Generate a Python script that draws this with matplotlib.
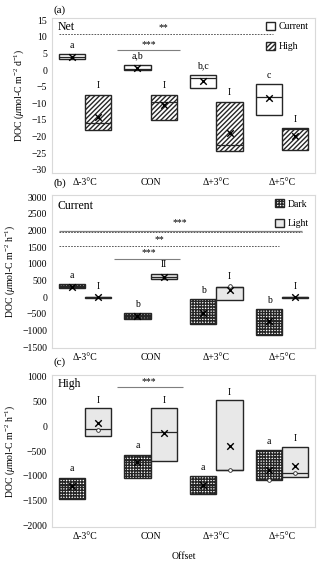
import matplotlib
matplotlib.use('Agg')
import matplotlib.pyplot as plt
from matplotlib.patches import Patch

plt.rcParams['font.family'] = ['Liberation Serif', 'DejaVu Serif']
plt.rcParams['mathtext.fontset'] = 'custom'
plt.rcParams['mathtext.rm'] = 'Liberation Serif'
plt.rcParams['mathtext.it'] = 'Liberation Serif:italic'
plt.rcParams['hatch.linewidth'] = 1.0

offsets = ['Δ-3°C', 'CON', 'Δ+3°C', 'Δ+5°C']

# (a) Net DOC - Current vs High
net_cur_q1 = [3.3, 0.0, -5.5, -13.5]
net_cur_q3 = [4.8, 1.6, -1.5, -4.2]
net_cur_med = [4.0, 0.3, -2.5, -8.0]
net_cur_mean = [4.0, 0.5, -3.3, -8.5]
net_cur_let = ['a', 'a,b', 'b,c', 'c']

net_high_q1 = [-18.0, -15.0, -24.5, -24.0]
net_high_q3 = [-7.5, -7.5, -9.6, -17.5]
net_high_med = [-16.0, -9.5, -22.5, -17.6]
net_high_mean = [-14.0, -10.5, -19.0, -20.0]
net_high_let = ['I', 'I', 'I', 'I']

# (b) Current - Dark vs Light
cur_dark_q1 = [260, -665, -795, -1126]
cur_dark_q3 = [390, -474, -52, -363]
cur_dark_med = [330, -575, -600, -715]
cur_dark_mean = [310, -575, -474, -715]
cur_dark_let = ['a', 'b', 'b', 'b']

cur_light_q1 = [-20, 530, -92, -20]
cur_light_q3 = [10, 680, 310, 10]
cur_light_med = [-10, 610, 310, -10]
cur_light_mean = [0, 610, 210, -5]
cur_light_pts = [None, None, 330, None]
cur_light_let = ['I', 'II', 'I', 'I']

# (c) High - Dark vs Light
high_dark_q1 = [-1474, -1036, -1360, -1090]
high_dark_q3 = [-1036, -571, -1009, -483]
high_dark_med = [-1190, -686, -1190, -880]
high_dark_mean = [-1205, -720, -1190, -888]
high_dark_pts = [None, None, None, -1090]
high_dark_let = ['a', 'a', 'a', 'a']

high_light_q1 = [-200, -706, -888, -1023]
high_light_q3 = [360, 360, 528, -416]
high_light_med = [-65, -126, -888, -942]
high_light_mean = [56, -146, -402, -793]
high_light_pts = [-79, None, -888, -942]
high_light_let = ['I', 'I', 'I', 'I']

W = 0.4
FS = 7
GRAY = '#d9d9d9'
DOTS = '++++++'
DIAG = '///////'


def draw_boxes(ax, side, q1, q3, med, mean, fc, hatch, letters, pad, pts=None):
    x = [i + side * W / 2 for i in range(len(q1))]
    h = [b - a for a, b in zip(q1, q3)]
    ax.bar(x, h, bottom=q1, width=W, facecolor=fc, edgecolor='#262626',
           hatch=hatch, linewidth=1.0, zorder=2)
    ax.hlines(med, [v - W / 2 for v in x], [v + W / 2 for v in x],
              color='#262626', linewidth=0.9, zorder=3)
    ax.scatter(x, mean, marker='x', color='black', s=22, linewidths=1.0, zorder=4)
    if pts is not None:
        px = [xx for xx, p in zip(x, pts) if p is not None]
        py = [p for p in pts if p is not None]
        ax.scatter(px, py, marker='o', facecolor='white', edgecolor='#262626',
                   s=7, linewidths=0.6, zorder=5)
    for xx, top, t in zip(x, q3, letters):
        ax.text(xx, top + pad, t, ha='center', va='bottom', fontsize=FS)


def style(ax, ylim, yticks):
    ax.set_xlim(-0.5, 3.5)
    ax.set_ylim(*ylim)
    ax.set_yticks(yticks)
    ax.set_xticks(range(4))
    ax.set_xticklabels(offsets)
    ax.tick_params(length=0, labelsize=FS, pad=3.5)
    for s in ax.spines.values():
        s.set_color(GRAY)
        s.set_linewidth(0.8)


def legend(ax, handles):
    ax.legend(handles=handles, loc='upper right', bbox_to_anchor=(1.01, 1.03),
              frameon=False, fontsize=FS, handlelength=0.9, handleheight=0.9,
              labelspacing=1.05, handletextpad=0.4)


fig = plt.figure(figsize=(3.2, 5.64), dpi=100)
L, R = 52 / 320, 315 / 320
axa = fig.add_axes([L, 1 - 173 / 564, R - L, 155 / 564])
axb = fig.add_axes([L, 1 - 348 / 564, R - L, 153 / 564])
axc = fig.add_axes([L, 1 - 527 / 564, R - L, 152 / 564])

ylab_d = r'DOC ($\mu$mol-C m$^{-2}$ d$^{-1}$)'
ylab_h = r'DOC ($\mu$mol-C m$^{-2}$ h$^{-1}$)'

# panel (a)
style(axa, (-31, 15.7), range(-30, 16, 5))
draw_boxes(axa, -1, net_cur_q1, net_cur_q3, net_cur_med, net_cur_mean,
           'white', None, net_cur_let, 1.3)
draw_boxes(axa, 1, net_high_q1, net_high_q3, net_high_med, net_high_mean,
           'white', DIAG, net_high_let, 1.4)
axa.hlines(11, -0.39, 2.86, color='#404040', linestyle=(0, (2, 1.5)), linewidth=0.6)
axa.text(1.2, 11.3, '**', ha='center', va='bottom', fontsize=FS)
axa.hlines(6, 0.49, 1.45, color='#7f7f7f', linewidth=0.8)
axa.text(0.97, 6.3, '***', ha='center', va='bottom', fontsize=FS)
axa.text(-0.42, 13.0, 'Net', ha='left', va='center', fontsize=8.5)
axa.set_ylabel(ylab_d, fontsize=FS, labelpad=4)
legend(axa, [Patch(facecolor='white', edgecolor='#262626', label='Current'),
             Patch(facecolor='white', edgecolor='#262626', hatch=DIAG, label='High')])

# panel (b)
style(axb, (-1530, 3070), range(-1500, 3001, 500))
draw_boxes(axb, -1, cur_dark_q1, cur_dark_q3, cur_dark_med, cur_dark_mean,
           'white', DOTS, cur_dark_let, 130)
draw_boxes(axb, 1, cur_light_q1, cur_light_q3, cur_light_med, cur_light_mean,
           '#e8e8e8', None, cur_light_let, 160, cur_light_pts)
axb.hlines(2000, -0.39, 3.30, color='#7f7f7f', linewidth=0.9)
axb.hlines(1950, -0.39, 3.30, color='#404040', linestyle=(0, (2, 1.5)), linewidth=0.6)
axb.text(1.45, 2090, '***', ha='center', va='bottom', fontsize=FS)
axb.hlines(1535, -0.39, 2.95, color='#404040', linestyle=(0, (2, 1.5)), linewidth=0.6)
axb.text(1.13, 1600, '**', ha='center', va='bottom', fontsize=FS)
axb.hlines(1150, 0.44, 1.45, color='#7f7f7f', linewidth=0.8)
axb.text(0.97, 1190, '***', ha='center', va='bottom', fontsize=FS)
axb.text(-0.42, 2750, 'Current', ha='left', va='center', fontsize=8.5)
axb.set_ylabel(ylab_h, fontsize=FS, labelpad=4)
legend(axb, [Patch(facecolor='white', edgecolor='#262626', hatch=DOTS, label='Dark'),
             Patch(facecolor='#e8e8e8', edgecolor='#262626', label='Light')])

# panel (c)
style(axc, (-2034, 1034), range(-2000, 1001, 500))
draw_boxes(axc, -1, high_dark_q1, high_dark_q3, high_dark_med, high_dark_mean,
           'white', DOTS, high_dark_let, 90, high_dark_pts)
draw_boxes(axc, 1, high_light_q1, high_light_q3, high_light_med, high_light_mean,
           '#e8e8e8', None, high_light_let, 70, high_light_pts)
axc.hlines(784, 0.49, 1.49, color='#7f7f7f', linewidth=0.8)
axc.text(0.97, 810, '***', ha='center', va='bottom', fontsize=FS)
axc.text(-0.42, 850, 'High', ha='left', va='center', fontsize=8.5)
axc.set_ylabel(ylab_h, fontsize=FS, labelpad=4)
axc.set_xlabel('Offset', fontsize=FS, labelpad=8)

fig.text(53 / 320, 1 - 10 / 564, '(a)', fontsize=8, va='center')
fig.text(53 / 320, 1 - 183 / 564, '(b)', fontsize=8, va='center')
fig.text(53 / 320, 1 - 362 / 564, '(c)', fontsize=8, va='center')

fig.savefig('out.png', dpi=100, facecolor='white')
